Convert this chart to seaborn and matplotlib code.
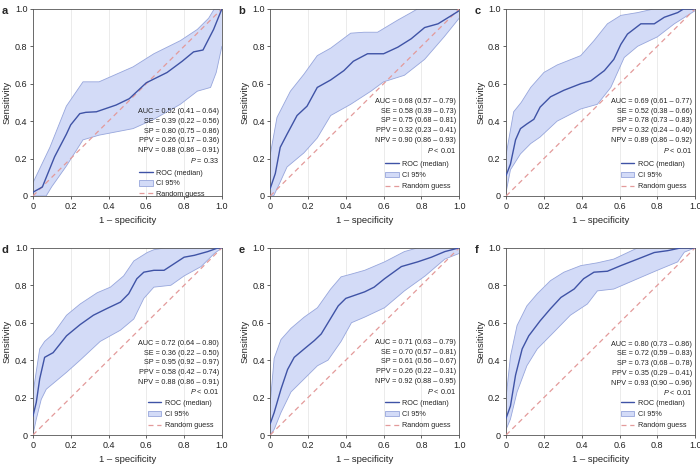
import numpy as np
import matplotlib
matplotlib.use('Agg')
import matplotlib.pyplot as plt
import seaborn as sns
from matplotlib.patches import Patch
from matplotlib.lines import Line2D

# ---- data ----
PANELS = ['a', 'b', 'c', 'd', 'e', 'f']

# median ROC curves (1 - specificity, sensitivity)
a_med_x = [0, 0.05, 0.115, 0.177, 0.2, 0.248, 0.28, 0.336, 0.44, 0.51, 0.6, 0.71, 0.79, 0.85, 0.9, 0.956, 1.0]
a_med_y = [0.02, 0.048, 0.21, 0.33, 0.38, 0.44, 0.447, 0.45, 0.486, 0.52, 0.605, 0.66, 0.72, 0.77, 0.78, 0.89, 1.0]
b_med_x = [0, 0.027, 0.053, 0.089, 0.142, 0.195, 0.249, 0.32, 0.39, 0.44, 0.515, 0.6, 0.675, 0.746, 0.817, 0.888, 0.96, 1.0]
b_med_y = [0.04, 0.12, 0.26, 0.33, 0.43, 0.48, 0.58, 0.62, 0.67, 0.72, 0.76, 0.76, 0.795, 0.84, 0.9, 0.92, 0.965, 0.99]
c_med_x = [0, 0.023, 0.05, 0.076, 0.11, 0.147, 0.18, 0.235, 0.306, 0.395, 0.448, 0.52, 0.57, 0.607, 0.642, 0.713, 0.784, 0.837, 0.908, 0.94, 1.0]
c_med_y = [0.11, 0.17, 0.3, 0.36, 0.385, 0.41, 0.475, 0.53, 0.565, 0.6, 0.615, 0.67, 0.73, 0.81, 0.865, 0.92, 0.92, 0.955, 0.98, 1.0, 1.0]
d_med_x = [0, 0.018, 0.036, 0.062, 0.107, 0.178, 0.25, 0.32, 0.39, 0.463, 0.507, 0.55, 0.587, 0.64, 0.694, 0.747, 0.8, 0.854, 0.925, 0.98, 1.0]
d_med_y = [0.1, 0.175, 0.3, 0.415, 0.44, 0.53, 0.59, 0.64, 0.675, 0.71, 0.755, 0.835, 0.87, 0.88, 0.88, 0.915, 0.95, 0.96, 0.98, 1.0, 1.0]
e_med_x = [0, 0.021, 0.057, 0.092, 0.127, 0.18, 0.234, 0.27, 0.306, 0.36, 0.4, 0.5, 0.55, 0.605, 0.694, 0.78, 0.853, 0.924, 1.0]
e_med_y = [0.06, 0.12, 0.245, 0.35, 0.415, 0.46, 0.505, 0.54, 0.6, 0.69, 0.73, 0.765, 0.79, 0.835, 0.9, 0.925, 0.95, 0.98, 1.0]
f_med_x = [0, 0.023, 0.05, 0.085, 0.12, 0.18, 0.235, 0.29, 0.36, 0.41, 0.465, 0.536, 0.607, 0.696, 0.784, 0.855, 0.926, 1.0]
f_med_y = [0.09, 0.155, 0.32, 0.46, 0.53, 0.61, 0.675, 0.735, 0.78, 0.835, 0.87, 0.875, 0.905, 0.94, 0.975, 0.985, 1.0, 1.0]

# 95% CI upper bounds
a_up_x = [0, 0.09, 0.177, 0.265, 0.35, 0.53, 0.64, 0.78, 0.87, 0.93, 0.96, 1.0]
a_up_y = [0.07, 0.26, 0.48, 0.61, 0.61, 0.69, 0.76, 0.83, 0.89, 0.95, 1.0, 1.0]
b_up_x = [0, 0.036, 0.107, 0.178, 0.249, 0.32, 0.426, 0.497, 0.568, 0.675, 0.746, 0.78, 1.0]
b_up_y = [0.22, 0.42, 0.56, 0.65, 0.75, 0.79, 0.87, 0.875, 0.875, 0.94, 0.98, 1.0, 1.0]
c_up_x = [0, 0.04, 0.08, 0.13, 0.2, 0.27, 0.395, 0.465, 0.536, 0.607, 0.696, 0.784, 1.0]
c_up_y = [0.22, 0.45, 0.5, 0.58, 0.66, 0.7, 0.75, 0.83, 0.92, 0.965, 0.98, 1.0, 1.0]
d_up_x = [0, 0.036, 0.062, 0.107, 0.178, 0.25, 0.34, 0.41, 0.48, 0.534, 0.605, 0.64, 0.7, 1.0]
d_up_y = [0.22, 0.46, 0.5, 0.54, 0.64, 0.7, 0.76, 0.79, 0.85, 0.93, 0.975, 0.99, 1.0, 1.0]
e_up_x = [0, 0.021, 0.057, 0.11, 0.18, 0.25, 0.32, 0.375, 0.43, 0.5, 0.605, 0.71, 0.78, 1.0]
e_up_y = [0.17, 0.41, 0.51, 0.57, 0.63, 0.68, 0.78, 0.845, 0.86, 0.88, 0.925, 0.98, 1.0, 1.0]
f_up_x = [0, 0.023, 0.058, 0.11, 0.165, 0.235, 0.306, 0.395, 0.483, 0.57, 0.696, 1.0]
f_up_y = [0.2, 0.42, 0.585, 0.69, 0.755, 0.825, 0.87, 0.905, 0.92, 0.94, 1.0, 1.0]

# 95% CI lower bounds
a_lo_x = [0, 0.07, 0.1, 0.177, 0.265, 0.35, 0.53, 0.64, 0.78, 0.87, 0.94, 0.97, 1.0]
a_lo_y = [0, 0, 0.05, 0.16, 0.3, 0.325, 0.36, 0.41, 0.49, 0.56, 0.58, 0.66, 0.8]
b_lo_x = [0, 0.018, 0.053, 0.089, 0.178, 0.249, 0.32, 0.426, 0.533, 0.6, 0.71, 0.817, 0.92, 1.0]
b_lo_y = [0, 0, 0.075, 0.155, 0.23, 0.31, 0.43, 0.49, 0.56, 0.61, 0.645, 0.73, 0.85, 0.95]
c_lo_x = [0, 0.023, 0.076, 0.13, 0.18, 0.27, 0.395, 0.483, 0.554, 0.625, 0.696, 0.8, 0.89, 1.0]
c_lo_y = [0.02, 0.14, 0.225, 0.28, 0.315, 0.4, 0.465, 0.49, 0.58, 0.74, 0.8, 0.85, 0.92, 0.99]
d_lo_x = [0, 0.018, 0.044, 0.071, 0.178, 0.25, 0.356, 0.463, 0.534, 0.587, 0.64, 0.73, 0.8, 0.89, 0.96, 1.0]
d_lo_y = [0, 0.085, 0.19, 0.245, 0.335, 0.4, 0.5, 0.56, 0.62, 0.73, 0.79, 0.8, 0.85, 0.9, 0.97, 1.0]
e_lo_x = [0, 0.021, 0.057, 0.11, 0.18, 0.25, 0.306, 0.375, 0.43, 0.5, 0.605, 0.71, 0.82, 0.924, 1.0]
e_lo_y = [0, 0.03, 0.12, 0.23, 0.3, 0.37, 0.4, 0.5, 0.6, 0.63, 0.68, 0.77, 0.85, 0.94, 0.97]
f_lo_x = [0, 0.023, 0.058, 0.11, 0.165, 0.253, 0.34, 0.43, 0.483, 0.57, 0.696, 0.8, 0.908, 0.943, 1.0]
f_lo_y = [0.03, 0.085, 0.23, 0.37, 0.46, 0.55, 0.64, 0.7, 0.77, 0.78, 0.835, 0.88, 0.925, 0.977, 1.0]

# statistics printed in each panel
a_stats = ['AUC = 0.52 (0.41 – 0.64)', 'SE = 0.39 (0.22 – 0.56)', 'SP = 0.80 (0.75 – 0.86)',
           'PPV = 0.26 (0.17 – 0.36)', 'NPV = 0.88 (0.86 – 0.91)', '$P$ = 0.33']
b_stats = ['AUC = 0.68 (0.57 – 0.79)', 'SE = 0.58 (0.39 – 0.73)', 'SP = 0.75 (0.68 – 0.81)',
           'PPV = 0.32 (0.23 – 0.41)', 'NPV = 0.90 (0.86 – 0.93)', '$P$ < 0.01']
c_stats = ['AUC = 0.69 (0.61 – 0.77)', 'SE = 0.52 (0.38 – 0.66)', 'SP = 0.78 (0.73 – 0.83)',
           'PPV = 0.32 (0.24 – 0.40)', 'NPV = 0.89 (0.86 – 0.92)', '$P$ < 0.01']
d_stats = ['AUC = 0.72 (0.64 – 0.80)', 'SE = 0.36 (0.22 – 0.50)', 'SP = 0.95 (0.92 – 0.97)',
           'PPV = 0.58 (0.42 – 0.74)', 'NPV = 0.88 (0.86 – 0.91)', '$P$ < 0.01']
e_stats = ['AUC = 0.71 (0.63 – 0.79)', 'SE = 0.70 (0.57 – 0.81)', 'SP = 0.61 (0.56 – 0.67)',
           'PPV = 0.26 (0.22 – 0.31)', 'NPV = 0.92 (0.88 – 0.95)', '$P$ < 0.01']
f_stats = ['AUC = 0.80 (0.73 – 0.86)', 'SE = 0.72 (0.59 – 0.83)', 'SP = 0.73 (0.68 – 0.78)',
           'PPV = 0.35 (0.29 – 0.41)', 'NPV = 0.93 (0.90 – 0.96)', '$P$ < 0.01']

TICKS = [0, 0.2, 0.4, 0.6, 0.8, 1.0]
TICK_LABELS = ['0', '0.2', '0.4', '0.6', '0.8', '1.0']

MED_COLOR = '#3f53a6'
FILL_COLOR = '#d3dbf7'
EDGE_COLOR = '#97a6dc'
RAND_COLOR = '#e39a9a'

panel_data = {
    'a': (a_med_x, a_med_y, a_up_x, a_up_y, a_lo_x, a_lo_y, a_stats),
    'b': (b_med_x, b_med_y, b_up_x, b_up_y, b_lo_x, b_lo_y, b_stats),
    'c': (c_med_x, c_med_y, c_up_x, c_up_y, c_lo_x, c_lo_y, c_stats),
    'd': (d_med_x, d_med_y, d_up_x, d_up_y, d_lo_x, d_lo_y, d_stats),
    'e': (e_med_x, e_med_y, e_up_x, e_up_y, e_lo_x, e_lo_y, e_stats),
    'f': (f_med_x, f_med_y, f_up_x, f_up_y, f_lo_x, f_lo_y, f_stats),
}
# y of the "P" line (bottom of stats block), axes coords
text_bottom = {'a': 0.19, 'b': 0.245, 'c': 0.245, 'd': 0.23, 'e': 0.235, 'f': 0.225}
# legend box anchor (right x, bottom y) and row spacing
legend_anchor = {'a': (0.91, -0.01), 'b': (0.955, 0.03), 'c': (0.955, 0.03),
                 'd': (0.955, 0.03), 'e': (0.955, 0.03), 'f': (0.955, 0.03)}
legend_spacing = {'a': 0.45, 'b': 0.55, 'c': 0.55, 'd': 0.55, 'e': 0.55, 'f': 0.55}

sns.set_theme(style='ticks')
plt.rcParams['font.family'] = ['Liberation Sans', 'DejaVu Sans']
plt.rcParams['mathtext.fontset'] = 'custom'
plt.rcParams['mathtext.it'] = 'Liberation Sans:italic'

fig = plt.figure(figsize=(7.0, 4.65), dpi=100)
lefts = [0.047, 0.386, 0.723]
bottoms = [0.5785, 0.0645]
W, H = 0.27, 0.4025

for i, key in enumerate(PANELS):
    mx, my, ux, uy, lx, ly, stats = panel_data[key]
    ax = fig.add_axes([lefts[i % 3], bottoms[i // 3], W, H])

    # CI band
    poly_x = list(ux) + list(lx)[::-1]
    poly_y = list(uy) + list(ly)[::-1]
    ax.fill(poly_x, poly_y, color=FILL_COLOR, lw=0, zorder=1)
    ax.plot(ux, uy, color=EDGE_COLOR, lw=0.6, zorder=2)
    ax.plot(lx, ly, color=EDGE_COLOR, lw=0.6, zorder=2)

    # random guess and median ROC
    sns.lineplot(x=[0, 1], y=[0, 1], ax=ax, color=RAND_COLOR, lw=0.9,
                 linestyle=(0, (4, 3)), zorder=3)
    sns.lineplot(x=mx, y=my, ax=ax, color=MED_COLOR, lw=1.0, zorder=4,
                 sort=False, estimator=None)

    ax.set_xlim(0, 1)
    ax.set_ylim(0, 1)
    ax.set_xticks(TICKS)
    ax.set_xticklabels(TICK_LABELS)
    ax.set_yticks(TICKS)
    ax.set_yticklabels(TICK_LABELS)
    ax.tick_params(labelsize=6.5, length=2, width=0.5, pad=2, colors='#222222')
    ax.xaxis.grid(True, color='#e8e8e8', lw=0.6)
    ax.set_axisbelow(True)
    for sp in ax.spines.values():
        sp.set_linewidth(0.6)
        sp.set_color('#555555')
    ax.set_xlabel('1 – specificity', fontsize=6.8, labelpad=4)
    ax.set_ylabel('Sensitivity', fontsize=6.8, labelpad=2)

    # stats block
    yb = text_bottom[key]
    for j, s in enumerate(stats):
        ax.text(0.985, yb + (5 - j) * 0.052, s, transform=ax.transAxes,
                ha='right', va='center', fontsize=5.2, color='#222222', zorder=5)

    handles = [Line2D([0], [0], color=MED_COLOR, lw=1.0),
               Patch(facecolor=FILL_COLOR, edgecolor=EDGE_COLOR, lw=0.6),
               Line2D([0], [0], color=RAND_COLOR, lw=0.9, linestyle=(0, (4, 3)))]
    ax.legend(handles, ['ROC (median)', 'CI 95%', 'Random guess'],
              loc='lower right', bbox_to_anchor=legend_anchor[key],
              frameon=False, fontsize=5.2, handlelength=1.9, handleheight=0.8,
              labelspacing=legend_spacing[key], borderpad=0, borderaxespad=0,
              handletextpad=0.5)

    fig.text(lefts[i % 3] - 0.045, bottoms[i // 3] + H - 0.005, key,
             fontsize=8, fontweight='bold', ha='left', va='center')

fig.savefig('out.png', dpi=100)
